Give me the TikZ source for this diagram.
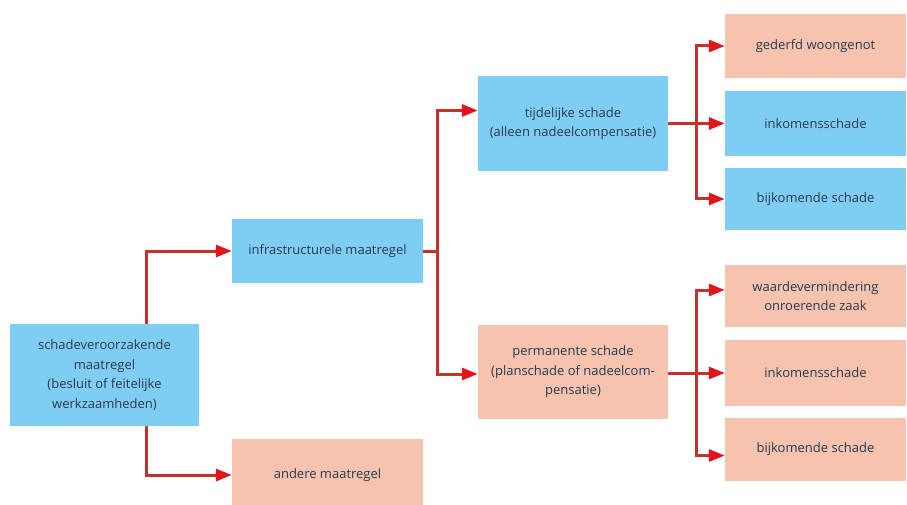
\documentclass[tikz,border=0pt]{standalone}
\usepackage{fontspec}
\setmainfont{Open Sans}
\usetikzlibrary{arrows.meta}
\definecolor{bblue}{HTML}{80CDF3}
\definecolor{bsalm}{HTML}{F5C3AE}
\definecolor{lred}{HTML}{C4322C}
\definecolor{tred}{HTML}{E2141C}
\definecolor{txt}{HTML}{283A50}
\tikzset{
  box/.style={inner sep=0pt, align=center, text=txt, font=\fontsize{13}{19.5}\selectfont},
  bluebox/.style={box, fill=bblue},
  salmbox/.style={box, fill=bsalm},
  conn/.style={draw=lred, line width=3pt},
  arr/.style={conn, -{Triangle[length=16pt,width=12pt,color=tred]}},
}
\begin{document}
\begin{tikzpicture}[x=1pt,y=-1pt]
\useasboundingbox (0,0) rectangle (907,505);
\fill[white] (0,0) rectangle (907,505);
\node[bluebox, minimum width=189pt, minimum height=102pt] (src) at (104.5,375) {schadeveroorzakende\\maatregel\\(besluit of feitelijke\\werkzaamheden)};
\node[bluebox, minimum width=191pt, minimum height=64pt] (infra) at (327.5,251) {infrastructurele maatregel};
\node[salmbox, minimum width=191pt, minimum height=72pt] (andere) at (327.5,475) {andere maatregel};
\node[bluebox, minimum width=190pt, minimum height=95pt] (tijd) at (573,123.5) {tijdelijke schade\\(alleen nadeelcompensatie)};
\node[salmbox, minimum width=190pt, minimum height=94pt] (perm) at (573,372) {permanente schade\\(planschade of nadeelcom-\\pensatie)};
\node[salmbox, minimum width=181pt, minimum height=64pt] (g1) at (815.5,46) {gederfd woongenot};
\node[bluebox, minimum width=181pt, minimum height=65pt] (g2) at (815.5,123.5) {inkomensschade};
\node[bluebox, minimum width=181pt, minimum height=62pt] (g3) at (815.5,199) {bijkomende schade};
\node[salmbox, minimum width=181pt, minimum height=62pt] (w1) at (815.5,296) {waardevermindering\\onroerende zaak};
\node[salmbox, minimum width=181pt, minimum height=66pt] (w2) at (815.5,373) {inkomensschade};
\node[salmbox, minimum width=181pt, minimum height=63pt] (w3) at (815.5,449.5) {bijkomende schade};
\coordinate (j1) at (146,0);
\coordinate (j2) at (437,0);
\coordinate (j3) at (696,0);
% level 1
\draw[arr] (src.north -| j1) |- (infra.west);
\draw[arr] (src.south -| j1) |- (andere.west);
% level 2
\draw[conn] (infra.east) -- (infra.east -| j2);
\draw[arr] ([yshift=-2pt]perm.west -| j2) |- ([yshift=13pt]tijd.west);
\draw[arr] ([yshift=13pt]tijd.west -| j2) |- ([yshift=-2pt]perm.west);
% level 3 top
\draw[arr] (tijd.east |- g2.west) -- (g2.west);
\draw[arr] (g3.west -| j3) |- (g1.west);
\draw[arr] (g1.west -| j3) |- (g3.west);
% level 3 bottom
\draw[arr] (perm.east |- w2.west) -- (w2.west);
\draw[arr] ([yshift=-6pt]w3.west -| j3) |- ([yshift=6pt]w1.west);
\draw[arr] ([yshift=6pt]w1.west -| j3) |- ([yshift=-6pt]w3.west);
\end{tikzpicture}
\end{document}
